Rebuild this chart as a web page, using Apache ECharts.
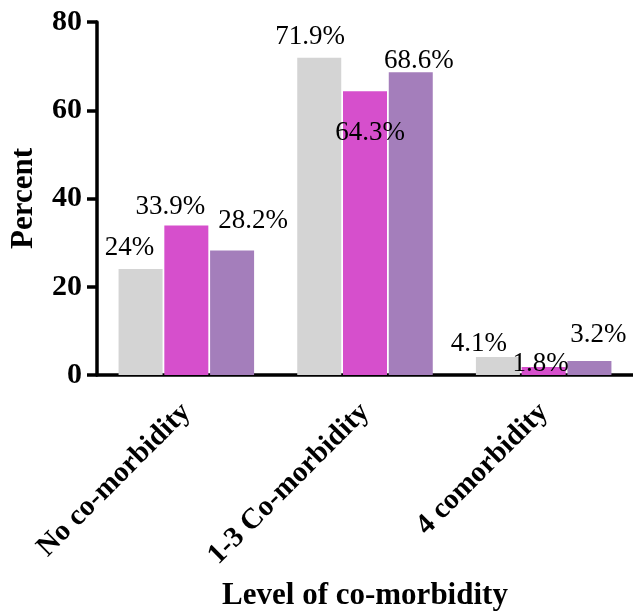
<!DOCTYPE html>
<html>
<head>
<meta charset="utf-8">
<script src="https://cdn.jsdelivr.net/npm/echarts@6/dist/echarts.min.js"></script>
<style>
html,body{margin:0;padding:0;background:#fff;}
#chart{width:633px;height:616px;}
</style>
</head>
<body>
<div id="chart"></div>
<script>
// ---- data ----
var categories = ['No co-morbidity', '1-3 Co-morbidity', '4 comorbidity'];
var seriesA = [24, 71.9, 4.1];     // light gray
var seriesB = [33.9, 64.3, 1.8];   // magenta
var seriesC = [28.2, 68.6, 3.2];   // purple
var labelsA = ['24%', '71.9%', '4.1%'];
var labelsB = ['33.9%', '64.3%', '1.8%'];
var labelsC = ['28.2%', '68.6%', '3.2%'];
var yTicks = [0, 20, 40, 60, 80];

// ---- layout / style (label nudges, not data) ----
var offA = [[-11, -3], [-9, -2], [-19, 5]];
var offB = [[-16, 0], [5, 60], [-3, 15]];
var offC = [[21, -11], [8, 7], [9, -7]];

var serif = 'Liberation Serif';

function buildSeries(name, vals, labels, offs, color) {
  return {
    name: name,
    type: 'bar',
    barWidth: 44,
    barGap: '4%',
    itemStyle: { color: color },
    data: vals.map(function (v, i) {
      return {
        value: v,
        label: {
          show: true,
          position: 'top',
          distance: 5,
          offset: offs[i],
          formatter: labels[i],
          fontFamily: serif,
          fontSize: 27,
          color: '#000'
        }
      };
    })
  };
}

var chart = echarts.init(document.getElementById('chart'));
chart.setOption({
  animation: false,
  backgroundColor: '#fff',
  grid: { left: 93, right: 0, top: 22, bottom: 235 },
  xAxis: {
    type: 'category',
    data: categories,
    name: 'Level of co-morbidity',
    nameLocation: 'middle',
    nameGap: 205,
    nameTextStyle: { fontFamily: serif, fontWeight: 'bold', fontSize: 31, color: '#000' },
    axisLine: { lineStyle: { color: '#000', width: 3.5 } },
    axisTick: { alignWithLabel: true, length: 10, lineStyle: { color: '#000', width: 3.5 } },
    axisLabel: {
      interval: 0,
      rotate: 45,
      margin: 33,
      fontFamily: serif,
      fontWeight: 'bold',
      fontSize: 29,
      color: '#000'
    }
  },
  yAxis: {
    type: 'value',
    min: yTicks[0],
    max: yTicks[yTicks.length - 1],
    interval: 20,
    name: 'Percent',
    nameLocation: 'middle',
    nameGap: 58,
    nameTextStyle: { fontFamily: serif, fontWeight: 'bold', fontSize: 31, color: '#000' },
    axisLine: { show: true, lineStyle: { color: '#000', width: 3.5 } },
    axisTick: { show: true, length: 10, lineStyle: { color: '#000', width: 3.5 } },
    splitLine: { show: false },
    axisLabel: {
      margin: 15,
      fontFamily: serif,
      fontWeight: 'bold',
      fontSize: 30,
      color: '#000'
    }
  },
  series: [
    buildSeries('A', seriesA, labelsA, offA, '#d4d4d4'),
    buildSeries('B', seriesB, labelsB, offB, '#d64fcc'),
    buildSeries('C', seriesC, labelsC, offC, '#a47ebb')
  ]
});
</script>
</body>
</html>
